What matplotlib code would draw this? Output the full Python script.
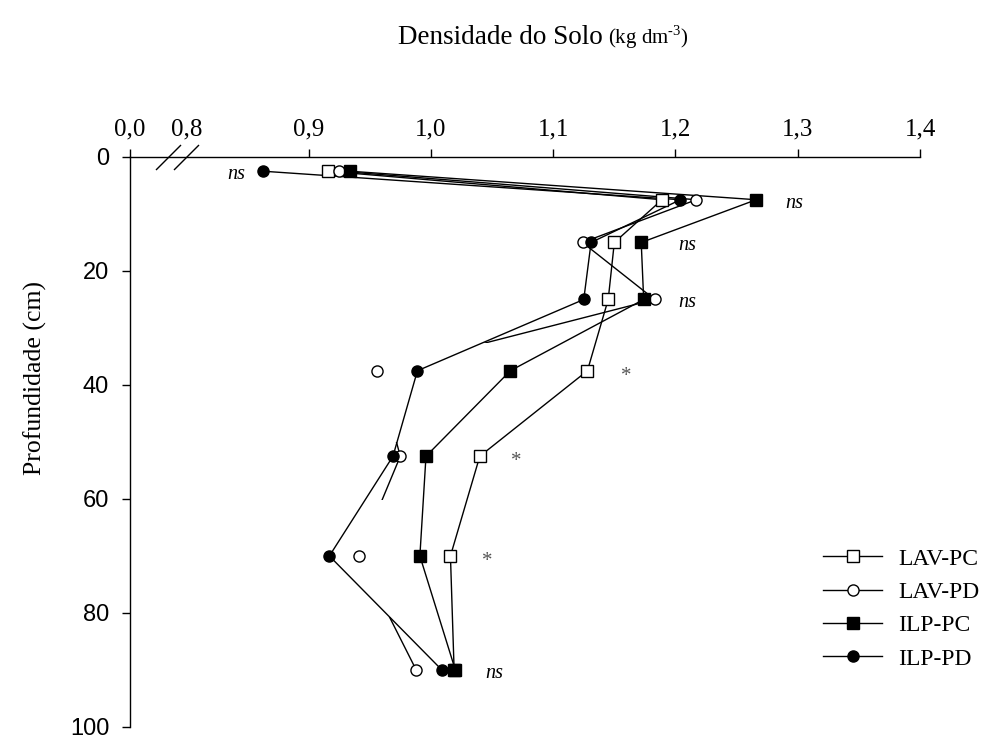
import matplotlib.pyplot as plt
from matplotlib.lines import Line2D
from matplotlib.patches import Rectangle

plt.rcParams['font.family'] = 'Liberation Serif'
plt.rcParams['mathtext.fontset'] = 'custom'
plt.rcParams['mathtext.rm'] = 'Liberation Serif'

# Dados
profundidade = [2.5, 7.5, 15, 25, 37.5, 52.5, 70, 90]
lav_pc = [0.916, 1.189, 1.150, 1.145, 1.128, 1.040, 1.016, 1.019]
lav_pd = [0.925, 1.217, 1.124, 1.183, 0.956, 0.975, 0.941, 0.988]
ilp_pc = [0.934, 1.266, 1.172, 1.174, 1.065, 0.996, 0.991, 1.020]
ilp_pd = [0.863, 1.204, 1.131, 1.125, 0.989, 0.969, 0.917, 1.009]

# faixas de profundidade em que a linha do LAV-PD aparece no original
faixas_lav_pd = [(0, 32.6), (50, 60.2), (80.7, 100)]

signif = ['ns', 'ns', 'ns', 'ns', '*', '*', '*', 'ns']
signif_x = [0.841, 1.297, 1.210, 1.210, 1.160, 1.070, 1.046, 1.052]

x_ticks = [0.754, 0.8, 0.9, 1.0, 1.1, 1.2, 1.3, 1.4]
x_labels = ['0,0', '0,8', '0,9', '1,0', '1,1', '1,2', '1,3', '1,4']
y_ticks = [0, 20, 40, 60, 80, 100]

fig = plt.figure(figsize=(9.98, 7.37), dpi=100)
ax = fig.add_axes([0.1303, 0.0136, 0.7916, 0.7734])

series = [
    ('LAV-PC', lav_pc, 's', 'white', 3.0),
    ('LAV-PD', lav_pd, 'o', 'white', 3.1),
    ('ILP-PC', ilp_pc, 's', 'black', 3.3),
    ('ILP-PD', ilp_pd, 'o', 'black', 3.2),
]

handles = []
for nome, vals, mk, fc, z in series:
    if nome == 'LAV-PD':
        for d0, d1 in faixas_lav_pd:
            ln, = ax.plot(vals, profundidade, color='k', lw=1, zorder=2)
            ln.set_clip_path(Rectangle((0.7, d0), 1.0, d1 - d0, transform=ax.transData))
    else:
        ax.plot(vals, profundidade, color='k', lw=1, zorder=2)
    ax.plot(vals, profundidade, ls='none', marker=mk, ms=8, mfc=fc, mec='k', mew=1, zorder=z)
    handles.append(Line2D([], [], color='k', lw=1, marker=mk, ms=8, mfc=fc, mec='k', mew=1))

# significancia
for s, x, d in zip(signif, signif_x, profundidade):
    if s == 'ns':
        ax.text(x, d + 1.4, s, style='italic', fontsize=14.5, ha='center', va='baseline')
    else:
        ax.text(x, d + 1.8, s, fontsize=15, color='#555555', ha='center', va='baseline')

ax.set_xlim(0.754, 1.4)
ax.set_ylim(100, 0)
ax.xaxis.tick_top()
ax.spines['right'].set_visible(False)
ax.spines['bottom'].set_visible(False)
for sp in ['top', 'left']:
    ax.spines[sp].set_linewidth(1.0)
ax.set_xticks(x_ticks, x_labels)
ax.set_yticks(y_ticks)
ax.tick_params(axis='x', direction='out', length=6, width=1, pad=6, labelsize=18)
ax.tick_params(axis='y', direction='out', length=6, width=1, pad=9, labelsize=17)
for lbl in ax.get_yticklabels():
    lbl.set_fontfamily('Liberation Sans')
ax.xaxis.get_major_ticks()[1].tick2line.set_visible(False)

# quebra do eixo
ax.plot([0.785, 0.8], [0, 0], ls='none', marker=[(-1, -1), (1, 1)], ms=18, mew=1,
        color='k', clip_on=False, zorder=5)

fig.text(0.604, 1 - 44 / 737, 'Densidade do Solo', ha='right', va='baseline', fontsize=19.5)
fig.text(0.609, 1 - 44 / 737, r'(kg dm$^{\text{-3}}$)', ha='left', va='baseline', fontsize=15)
fig.text(0.035, 1 - 378 / 737, 'Profundidade (cm)', rotation=90, ha='center', va='center',
         fontsize=18.5)

fig.legend(handles, ['LAV-PC', 'LAV-PD', 'ILP-PC', 'ILP-PD'], loc='upper left',
           bbox_to_anchor=(823 / 998, 1 - 548 / 737), frameon=False, fontsize=17,
           handlelength=2.5, handletextpad=0.7, labelspacing=0.5, borderpad=0,
           borderaxespad=0)

fig.savefig('out.png', dpi=100)
